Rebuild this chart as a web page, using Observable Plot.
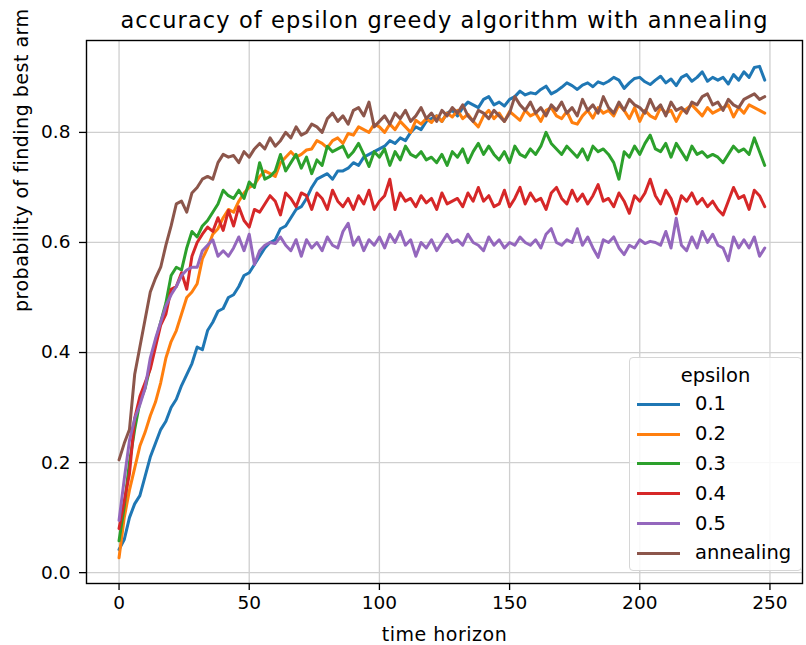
<!DOCTYPE html>
<html>
<head>
<meta charset="utf-8">
<script src="https://cdn.jsdelivr.net/npm/d3@7"></script>
<script src="https://cdn.jsdelivr.net/npm/@observablehq/plot@0.6"></script>
<style>
  body { margin: 0; background: #fff; font-family: "DejaVu Sans", sans-serif; }
  #wrap { position: relative; width: 806px; height: 645px; }
  #legend { position: absolute; left: 629px; top: 357px; width: 173px; height: 214px; box-sizing: border-box;
            border: 1px solid #d6d6d6; border-radius: 4px; background: rgba(255,255,255,0.85); }
  #legend .ttl { position: absolute; left: 0; width: 100%; text-align: center; top: 4px; font-size: 19.5px; line-height: 28px; }
  #legend .sw { position: absolute; left: 7px; width: 43px; height: 3px; }
  #legend .lb { position: absolute; left: 65px; font-size: 19.5px; line-height: 28px; }
</style>
</head>
<body>
<div id="wrap"></div>
<script>
// time steps (every second step of the 250-step horizon)
const t = d3.range(0, 250, 2);

const seriesNames = ["0.1", "0.2", "0.3", "0.4", "0.5", "annealing"];
const seriesColors = ["#1f77b4", "#ff7f0e", "#2ca02c", "#d62728", "#9467bd", "#8c564b"];

const eps01 = [0.042,0.06,0.10,0.125,0.14,0.175,0.21,0.235,0.26,0.275,
0.30,0.315,0.34,0.36,0.38,0.41,0.405,0.44,0.455,0.475,
0.48,0.50,0.505,0.52,0.54,0.545,0.56,0.575,0.59,0.60,
0.605,0.625,0.63,0.645,0.66,0.665,0.68,0.70,0.715,0.72,
0.725,0.715,0.73,0.73,0.735,0.745,0.74,0.755,0.76,0.765,
0.77,0.775,0.785,0.78,0.79,0.785,0.80,0.81,0.805,0.82,
0.825,0.83,0.82,0.835,0.84,0.83,0.845,0.855,0.85,0.845,
0.86,0.865,0.85,0.855,0.848,0.86,0.865,0.875,0.868,0.872,
0.87,0.878,0.884,0.87,0.875,0.882,0.89,0.885,0.878,0.886,
0.89,0.883,0.892,0.888,0.893,0.90,0.895,0.88,0.89,0.898,
0.90,0.892,0.887,0.895,0.902,0.89,0.897,0.885,0.90,0.905,
0.893,0.90,0.91,0.893,0.90,0.895,0.90,0.888,0.905,0.895,
0.91,0.90,0.918,0.92,0.895];

const eps02 = [0.027,0.10,0.15,0.19,0.23,0.255,0.285,0.31,0.345,0.39,
0.42,0.44,0.47,0.50,0.51,0.525,0.57,0.59,0.615,0.625,
0.645,0.66,0.655,0.675,0.69,0.70,0.705,0.72,0.73,0.725,
0.72,0.745,0.755,0.765,0.755,0.76,0.768,0.77,0.785,0.78,
0.772,0.785,0.79,0.78,0.798,0.795,0.81,0.805,0.80,0.815,
0.81,0.80,0.815,0.805,0.82,0.81,0.80,0.822,0.815,0.825,
0.818,0.83,0.82,0.835,0.828,0.84,0.825,0.833,0.82,0.81,
0.83,0.84,0.825,0.835,0.82,0.838,0.83,0.822,0.84,0.83,
0.835,0.82,0.84,0.845,0.83,0.825,0.838,0.818,0.815,0.83,
0.84,0.826,0.845,0.835,0.84,0.83,0.85,0.84,0.825,0.845,
0.82,0.84,0.83,0.825,0.845,0.835,0.84,0.82,0.838,0.843,
0.85,0.84,0.83,0.845,0.835,0.84,0.845,0.85,0.828,0.845,
0.835,0.85,0.845,0.84,0.835];

const eps03 = [0.058,0.12,0.20,0.26,0.31,0.335,0.375,0.42,0.455,0.49,
0.54,0.555,0.55,0.59,0.62,0.61,0.63,0.64,0.655,0.67,
0.695,0.685,0.68,0.695,0.68,0.71,0.70,0.745,0.715,0.72,
0.73,0.76,0.73,0.745,0.76,0.735,0.755,0.725,0.75,0.74,
0.775,0.765,0.77,0.775,0.755,0.765,0.78,0.76,0.738,0.765,
0.755,0.77,0.74,0.765,0.75,0.775,0.76,0.755,0.765,0.75,
0.755,0.745,0.76,0.74,0.765,0.755,0.77,0.745,0.765,0.78,
0.76,0.775,0.76,0.75,0.765,0.745,0.775,0.76,0.755,0.77,
0.76,0.775,0.80,0.78,0.77,0.76,0.775,0.765,0.755,0.77,
0.75,0.775,0.765,0.77,0.76,0.745,0.715,0.765,0.755,0.775,
0.76,0.78,0.795,0.77,0.765,0.78,0.755,0.78,0.765,0.75,
0.775,0.76,0.765,0.755,0.76,0.755,0.745,0.76,0.775,0.765,
0.77,0.76,0.79,0.765,0.74];

const eps04 = [0.08,0.13,0.18,0.28,0.32,0.345,0.37,0.41,0.45,0.47,
0.515,0.52,0.545,0.515,0.575,0.60,0.615,0.628,0.62,0.645,
0.622,0.658,0.63,0.665,0.64,0.628,0.66,0.655,0.67,0.685,
0.675,0.65,0.69,0.68,0.665,0.69,0.685,0.66,0.69,0.68,
0.66,0.695,0.675,0.665,0.68,0.66,0.685,0.67,0.695,0.66,
0.675,0.685,0.715,0.66,0.69,0.675,0.68,0.665,0.685,0.672,
0.68,0.66,0.69,0.67,0.675,0.68,0.665,0.69,0.675,0.70,
0.675,0.685,0.665,0.67,0.695,0.665,0.68,0.70,0.67,0.69,
0.675,0.68,0.66,0.69,0.70,0.68,0.67,0.695,0.675,0.688,
0.67,0.685,0.705,0.675,0.68,0.665,0.69,0.675,0.653,0.685,
0.675,0.69,0.715,0.685,0.67,0.695,0.68,0.652,0.685,0.675,
0.69,0.67,0.68,0.665,0.675,0.66,0.65,0.675,0.70,0.68,
0.685,0.66,0.695,0.685,0.665];

const eps05 = [0.095,0.17,0.24,0.28,0.305,0.335,0.39,0.425,0.455,0.485,
0.505,0.52,0.54,0.55,0.555,0.555,0.585,0.595,0.605,0.575,
0.585,0.575,0.59,0.61,0.585,0.615,0.56,0.585,0.595,0.60,
0.598,0.61,0.595,0.585,0.605,0.575,0.605,0.59,0.60,0.585,
0.61,0.595,0.59,0.62,0.635,0.595,0.61,0.585,0.605,0.595,
0.61,0.59,0.615,0.60,0.62,0.595,0.605,0.575,0.60,0.59,
0.605,0.585,0.60,0.615,0.60,0.605,0.595,0.615,0.60,0.595,
0.585,0.61,0.595,0.605,0.59,0.60,0.595,0.61,0.60,0.595,
0.605,0.59,0.615,0.625,0.60,0.595,0.605,0.60,0.625,0.595,
0.61,0.59,0.573,0.605,0.60,0.61,0.59,0.578,0.595,0.59,
0.605,0.598,0.602,0.60,0.595,0.62,0.59,0.644,0.595,0.585,
0.61,0.59,0.62,0.60,0.615,0.595,0.59,0.567,0.61,0.59,
0.605,0.59,0.61,0.575,0.59];

const annealing = [0.205,0.235,0.26,0.36,0.41,0.46,0.51,0.535,0.555,0.595,
0.63,0.67,0.675,0.655,0.69,0.70,0.715,0.72,0.715,0.745,
0.76,0.755,0.758,0.745,0.765,0.755,0.77,0.78,0.77,0.79,
0.775,0.785,0.80,0.79,0.81,0.795,0.80,0.815,0.81,0.80,
0.825,0.835,0.82,0.83,0.815,0.84,0.845,0.83,0.855,0.81,
0.82,0.83,0.815,0.835,0.825,0.84,0.82,0.83,0.845,0.825,
0.835,0.82,0.84,0.83,0.845,0.835,0.85,0.83,0.82,0.84,
0.835,0.825,0.84,0.83,0.82,0.835,0.865,0.85,0.84,0.855,
0.835,0.845,0.83,0.85,0.84,0.855,0.835,0.845,0.83,0.86,
0.84,0.85,0.835,0.865,0.845,0.835,0.855,0.84,0.86,0.85,
0.845,0.835,0.86,0.84,0.85,0.83,0.855,0.84,0.845,0.835,
0.855,0.85,0.865,0.87,0.85,0.855,0.84,0.86,0.85,0.845,
0.86,0.865,0.87,0.86,0.865];

const xTicks = [0, 50, 100, 150, 200, 250];
const yTicks = [0.0, 0.2, 0.4, 0.6, 0.8];

const allSeries = [eps01, eps02, eps03, eps04, eps05, annealing];
const rows = [];
allSeries.forEach((vals, i) => vals.forEach((v, j) => rows.push({t: t[j], v, s: seriesNames[i]})));

const chart = Plot.plot({
  width: 806,
  height: 645,
  marginLeft: 86,
  marginRight: 4,
  marginTop: 40,
  marginBottom: 62,
  style: {fontFamily: "DejaVu Sans, sans-serif", fontSize: "18.5px", color: "#000", background: "#fff"},
  x: {domain: [-12.5, 262.5]},
  y: {domain: [-0.0197, 0.967]},
  color: {domain: seriesNames, range: seriesColors},
  marks: [
    Plot.gridX(xTicks, {stroke: "#cfcfcf", strokeOpacity: 1, strokeWidth: 1.3}),
    Plot.gridY(yTicks, {stroke: "#cfcfcf", strokeOpacity: 1, strokeWidth: 1.3}),
    Plot.line(rows, {x: "t", y: "v", z: "s", stroke: "s", strokeWidth: 3, strokeLinejoin: "round"}),
    Plot.frame({stroke: "#000", strokeWidth: 1.4}),
    Plot.axisX(xTicks, {tickSize: 7, tickPadding: 5, label: null, stroke: "#000", strokeWidth: 1.3}),
    Plot.axisY(yTicks, {tickSize: 7, tickPadding: 9, label: null, tickFormat: d3.format(".1f"), stroke: "#000", strokeWidth: 1.3}),
    Plot.text(["time horizon"], {text: d => d, frameAnchor: "bottom", dy: 51, fontSize: 19, lineAnchor: "middle"}),
    Plot.text(["probability of finding best arm"], {text: d => d, frameAnchor: "left", dx: -65, rotate: -90, fontSize: 19, lineAnchor: "middle"}),
    Plot.text(["accuracy of epsilon greedy algorithm with annealing"], {text: d => d, frameAnchor: "top", dy: -20, fontSize: 22.5, lineAnchor: "middle"})
  ]
});

d3.select(chart).selectAll("text").each(function() {
  const s = this.textContent;
  if (s === "accuracy of epsilon greedy algorithm with annealing") this.setAttribute("letter-spacing", "1.1");
  if (s === "time horizon" || s === "probability of finding best arm") this.setAttribute("letter-spacing", "0.5");
});

const wrap = document.getElementById("wrap");
wrap.appendChild(chart);

// legend
const legend = document.createElement("div");
legend.id = "legend";
const ttl = document.createElement("div");
ttl.className = "ttl";
ttl.textContent = "epsilon";
legend.appendChild(ttl);
const rowCenters = [46.3, 76, 105.8, 135.6, 165.5, 195.3];
seriesNames.forEach((name, i) => {
  const sw = document.createElement("div");
  sw.className = "sw";
  sw.style.top = (rowCenters[i] - 1.5) + "px";
  sw.style.background = seriesColors[i];
  legend.appendChild(sw);
  const lb = document.createElement("div");
  lb.className = "lb";
  lb.style.top = (rowCenters[i] - 14) + "px";
  lb.textContent = name;
  legend.appendChild(lb);
});
wrap.appendChild(legend);
</script>
</body>
</html>
